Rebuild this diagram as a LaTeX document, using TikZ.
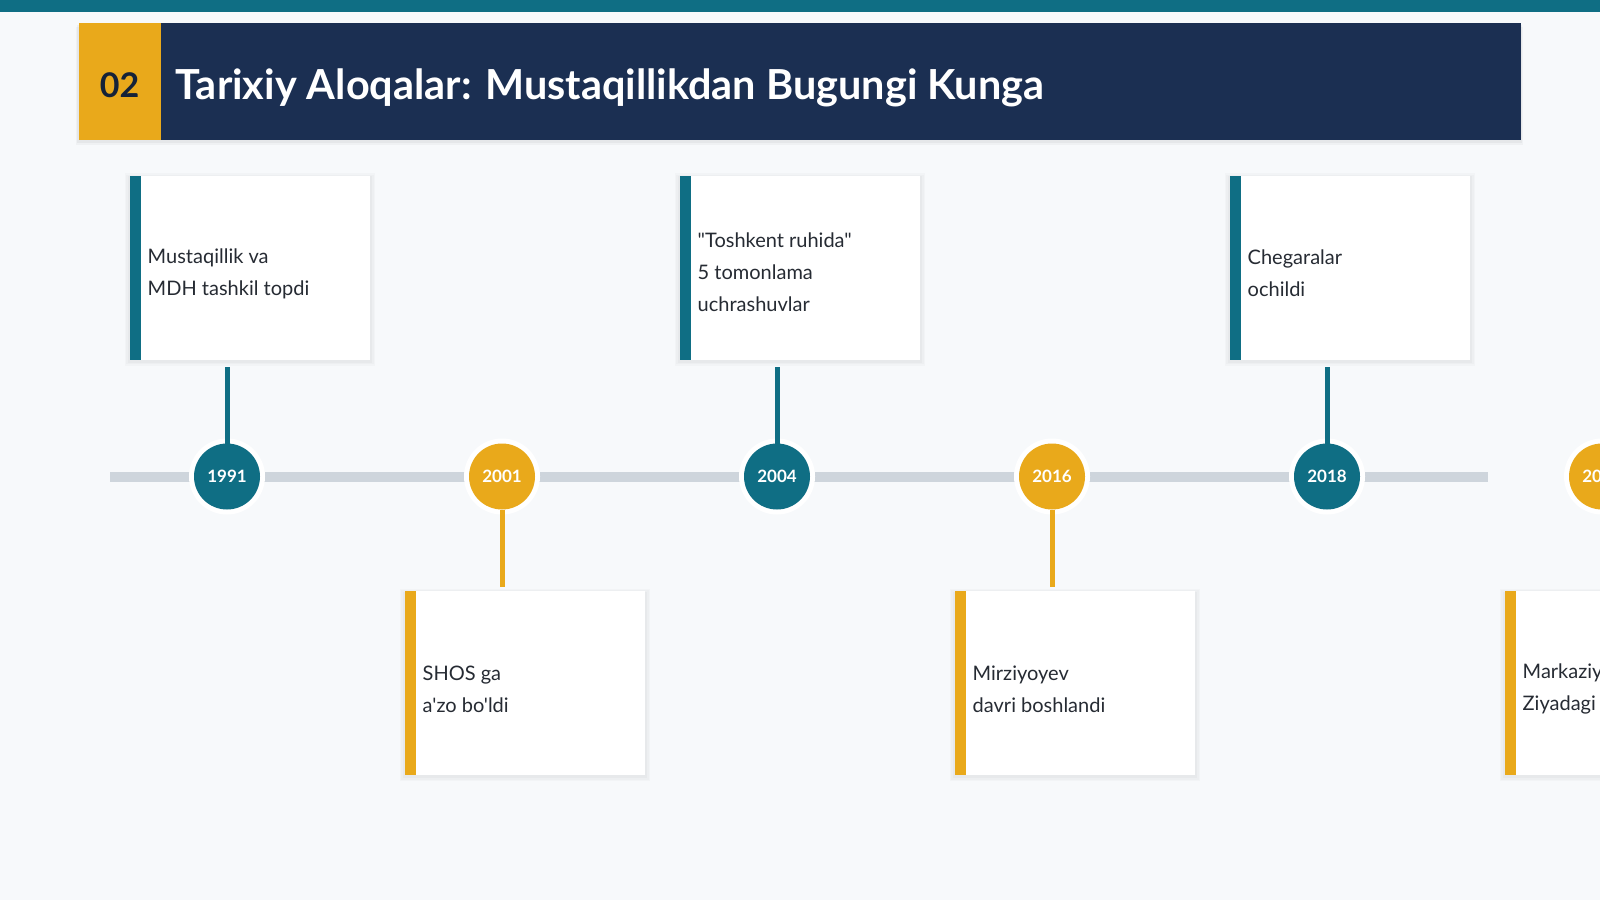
\documentclass[tikz,border=0pt]{standalone}
\usepackage{fontspec}
\setmainfont{Lato}[Ligatures=TeXOff]
\usetikzlibrary{shadows}
\definecolor{bg}{HTML}{F7F9FB}
\definecolor{tealc}{HTML}{0F6E84}
\definecolor{yel}{HTML}{E9A91B}
\definecolor{navy}{HTML}{1B2F52}
\definecolor{track}{HTML}{CED5DC}
\definecolor{ink}{HTML}{262B33}
\definecolor{numink}{HTML}{152238}
\begin{document}
\begin{tikzpicture}[x=1pt,y=-1pt,
  softshadow/.style={
    general shadow={fill=black, opacity=0.018, shadow yshift=-2pt, shadow scale=1.045},
    general shadow={fill=black, opacity=0.02, shadow yshift=-2pt, shadow scale=1.03},
    general shadow={fill=black, opacity=0.025, shadow yshift=-2pt, shadow scale=1.015}},
  card/.style={fill=white, minimum width=240pt, minimum height=184pt, inner sep=0pt, outer sep=0pt, anchor=north west, softshadow},
  cardtext/.style={anchor=west, align=left, inner sep=0pt, text=ink, font=\fontsize{20}{32}\selectfont},
  yearnode/.style={circle, minimum size=66pt, inner sep=0pt, outer sep=0pt, text=white,
    font=\bfseries\fontsize{17}{17}\selectfont, preaction={draw=white, line width=10pt}},
  tealyear/.style={yearnode, fill=tealc},
  yelyear/.style={yearnode, fill=yel},
  conn/.style={line width=5pt},
]
\useasboundingbox (0,0) rectangle (1600,900);
\clip (0,0) rectangle (1600,900);
\fill[bg] (0,0) rectangle (1600,900);
\fill[tealc] (0,0) rectangle (1600,11.5);

% header
\node[fill=navy, minimum width=1442pt, minimum height=117pt, inner sep=0pt, outer sep=0pt, anchor=north west,
  general shadow={fill=black, opacity=0.03, shadow yshift=-5pt, shadow scale=1.004},
  general shadow={fill=black, opacity=0.04, shadow yshift=-3pt, shadow scale=1.002}] (hdr) at (78.5,22.5) {};
\node[fill=yel, minimum width=82.5pt, minimum height=117pt, inner sep=0pt, outer sep=0pt, anchor=north west] (num) at (78.5,22.5) {};
\node[anchor=base, text=numink, font=\bfseries\fontsize{34}{34}\selectfont, inner sep=0pt] (numtext) at (119.5,97.5) {02};
\node[anchor=base west, text=white, font=\bfseries\fontsize{41.4}{41.4}\selectfont, inner sep=0pt] (title) at (175.5,99) {Tarixiy Aloqalar: Mustaqillikdan Bugungi Kunga};

% track
\draw[track, line width=10pt] (110,476.5) -- (1488,476.5);

% cards
\node[card] (k1) at (130,175.5) {};
\node[card] (k2) at (405,591) {};
\node[card] (k3) at (680,175.5) {};
\node[card] (k4) at (955,591) {};
\node[card] (k5) at (1230,175.5) {};
\node[card] (k6) at (1505,591) {};
\fill[tealc] (k1.north west) rectangle ([xshift=11pt]k1.south west);
\fill[yel] (k2.north west) rectangle ([xshift=11pt]k2.south west);
\fill[tealc] (k3.north west) rectangle ([xshift=11pt]k3.south west);
\fill[yel] (k4.north west) rectangle ([xshift=11pt]k4.south west);
\fill[tealc] (k5.north west) rectangle ([xshift=11pt]k5.south west);
\fill[yel] (k6.north west) rectangle ([xshift=11pt]k6.south west);

\node[cardtext] (t1) at (147.5,273.5) {Mustaqillik va\\MDH tashkil topdi};
\node[cardtext] (t2) at (422.5,689) {SHOS ga\\a'zo bo'ldi};
\node[cardtext] (t3) at (697.5,272) {"Toshkent ruhida"\\5 tomonlama\\uchrashuvlar};
\node[cardtext] (t4) at (972.5,689) {Mirziyoyev\\davri boshlandi};
\node[cardtext] (t5) at (1247.5,273.5) {Chegaralar\\ochildi};
\node[cardtext] (t6) at (1522.5,689) {Markaziy Osiyo\\Ziyadagi};

% year circles
\node[tealyear] (c1) at (227,476.5) {1991};
\node[yelyear] (c2) at (502,476.5) {2001};
\node[tealyear] (c3) at (777,476.5) {2004};
\node[yelyear] (c4) at (1052,476.5) {2016};
\node[tealyear] (c5) at (1327,476.5) {2018};
\node[yelyear] (c6) at (1602,476.5) {2024};

% connectors
\coordinate (s1) at (227,367);
\coordinate (s2) at (502,587);
\coordinate (s3) at (777,367);
\coordinate (s4) at (1052,587);
\coordinate (s5) at (1327,367);
\draw[conn, tealc] (s1) -- (c1.north);
\draw[conn, yel] (c2.south) -- (s2);
\draw[conn, tealc] (s3) -- (c3.north);
\draw[conn, yel] (c4.south) -- (s4);
\draw[conn, tealc] (s5) -- (c5.north);
\end{tikzpicture}
\end{document}
